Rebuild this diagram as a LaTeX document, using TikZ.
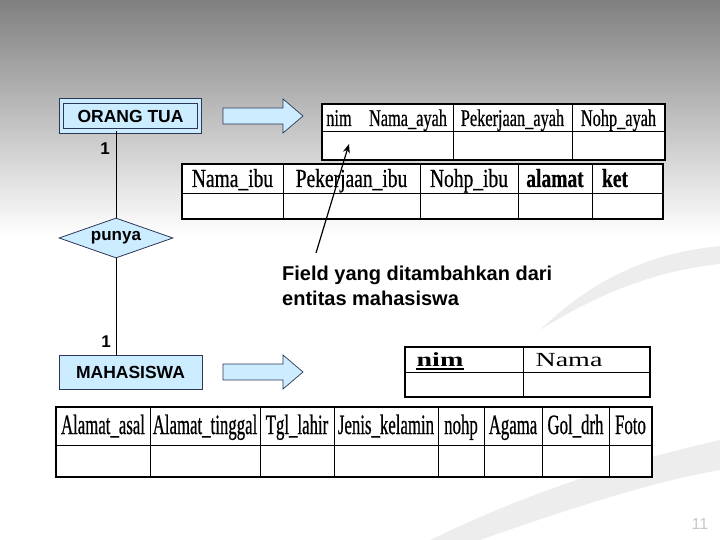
\documentclass[tikz,border=0pt]{standalone}
\usepackage{fontspec}
\setmainfont{Liberation Sans}
\newfontfamily\ayahfont{Liberation Serif}[FakeStretch=0.68,FakeBold=0.6]
\newfontfamily\ibufont{Liberation Serif}[FakeStretch=0.75,FakeBold=0.6]
\newfontfamily\mhsfont{Liberation Serif}[FakeStretch=0.60,FakeBold=0.6]
\newfontfamily\nimfont{Liberation Serif}[FakeStretch=1.40]
\usetikzlibrary{shapes.geometric,arrows.meta}

\definecolor{boxblue}{RGB}{204,236,255}
\definecolor{boxline}{RGB}{45,55,85}

\tikzset{
  entity/.style={draw=boxline,fill=boxblue,line width=0.8pt,inner sep=0pt,
    minimum width=143pt,minimum height=34pt,font=\fontsize{17.5}{20}\selectfont\bfseries},
  relasi/.style={diamond,draw=boxline,fill=boxblue,line width=0.8pt,inner sep=0pt,
    minimum width=114pt,minimum height=40pt,aspect=2.85,font=\fontsize{17}{20}\selectfont\bfseries},
  card/.style={inner sep=0pt,font=\fontsize{17}{20}\selectfont\bfseries},
  blockarrow/.style={draw=boxline,fill=boxblue,line width=0.7pt,line join=miter},
  tabel/.style={draw=black,fill=white,line width=1.6pt},
  garis/.style={draw=black,line width=0.8pt},
  kolom/.style={anchor=base,inner sep=0pt},
  ayahteks/.style={kolom,font=\ayahfont\fontsize{24}{28}\selectfont},
  ibuteks/.style={kolom,font=\ibufont\fontsize{26}{30}\selectfont},
  mhsteks/.style={kolom,font=\mhsfont\fontsize{28}{32}\selectfont},
  nimteks/.style={kolom,font=\nimfont\fontsize{20}{24}\selectfont},
  swoosh/.style={fill=black!7},
}

\begin{document}
\begin{tikzpicture}[x=1pt,y=-1pt]
\useasboundingbox (0,0) rectangle (720,540);
% background
\shade[top color=black!50,bottom color=white] (0,0) rectangle (720,235);
\fill[swoosh] (540,330) .. controls (600,272) and (660,252) .. (720,246) -- (720,264) .. controls (660,270) and (600,292) .. cycle;
\fill[swoosh] (430,540) .. controls (550,482) and (650,456) .. (720,440) -- (720,470) .. controls (650,482) and (560,512) .. (480,540) -- cycle;

% ER part
\node[entity,double=boxblue,double distance=3.5pt,minimum width=138pt,minimum height=30pt] (ortu) at (130.5,116) {ORANG TUA};
\node[relasi] (punya) at (116,238) {punya};
\node[entity] (mhs) at (130.5,372) {MAHASISWA};
\draw[garis] (punya.north) -- (punya.north |- ortu.south);
\draw[garis] (punya.south) -- (punya.south |- mhs.north);
\node[card] (kard1) at (105,149) {1};
\node[card] (kard2) at (106,342) {1};

\draw[blockarrow] (223,108) -- (283,108) -- (283,99) -- (303,116) -- (283,133) -- (283,124) -- (223,124) -- cycle;
\draw[blockarrow] (223,364) -- (283,364) -- (283,355) -- (303,372) -- (283,389) -- (283,380) -- (223,380) -- cycle;

% tabel orang tua (ayah)
\draw[tabel] (322,104) rectangle (665,160);
\draw[garis] (322,131) -- (665,131) (453,104) -- (453,160) (572,104) -- (572,160);
\node[ayahteks] (nimA) at (339,126) {nim};
\node[ayahteks] (namaayah) at (408,126) {Nama\_ayah};
\node[ayahteks] (kerjaayah) at (512.5,126) {Pekerjaan\_ayah};
\node[ayahteks] (hpayah) at (618.5,126) {Nohp\_ayah};

% tabel orang tua (ibu)
\draw[tabel] (182,164) rectangle (663,219);
\draw[garis] (182,193) -- (663,193) (283,164) -- (283,219) (420,164) -- (420,219)
  (518,164) -- (518,219) (592,164) -- (592,219);
\node[ibuteks] (namaibu) at (232.5,187) {Nama\_ibu};
\node[ibuteks] (kerjaibu) at (351.5,187) {Pekerjaan\_ibu};
\node[ibuteks] (hpibu) at (469,187) {Nohp\_ibu};
\node[ibuteks,font=\ibufont\fontsize{26}{30}\selectfont\bfseries] (alamat) at (555,187) {alamat};
\node[ibuteks,font=\ibufont\fontsize{26}{30}\selectfont\bfseries] (ket) at (615,187) {ket};

% keterangan
\node[anchor=north west,inner sep=0pt,align=left,font=\fontsize{20}{25}\selectfont\bfseries] (catatan) at (282,266) {Field yang ditambahkan dari\\entitas mahasiswa};
\coordinate (pangkal) at (316,253);
\coordinate (ujung) at (349,144);
\draw[line width=1.2pt,-{Stealth[length=9pt,width=7pt]}] (pangkal) -- (ujung);

% tabel mahasiswa
\draw[tabel,line width=1.2pt] (405,347) rectangle (650,397);
\draw[garis] (405,372) -- (650,372) (523,347) -- (523,397);
\node[nimteks,font=\nimfont\fontsize{20}{24}\selectfont\bfseries] (nimM) at (440,366) {nim};
\draw[line width=2pt] ([yshift=-3pt]nimM.base west) -- ([yshift=-3pt]nimM.base east);
\node[nimteks] (nama) at (569,366) {Nama};

\draw[tabel] (56,407) rectangle (652,477);
\draw[garis] (56,445) -- (652,445) (150,407) -- (150,477) (260,407) -- (260,477)
  (334,407) -- (334,477) (438,407) -- (438,477) (484,407) -- (484,477)
  (542,407) -- (542,477) (609,407) -- (609,477);
\node[mhsteks] (asal) at (103,434) {Alamat\_asal};
\node[mhsteks] (tinggal) at (205,434) {Alamat\_tinggal};
\node[mhsteks] (lahir) at (297,434) {Tgl\_lahir};
\node[mhsteks] (kelamin) at (386,434) {Jenis\_kelamin};
\node[mhsteks] (nohp) at (461,434) {nohp};
\node[mhsteks] (agama) at (513,434) {Agama};
\node[mhsteks] (goldrh) at (575.5,434) {Gol\_drh};
\node[mhsteks] (foto) at (630.5,434) {Foto};

\node[font=\fontsize{16}{18}\selectfont,text=black!22] (halaman) at (700,524) {11};
\end{tikzpicture}
\end{document}
